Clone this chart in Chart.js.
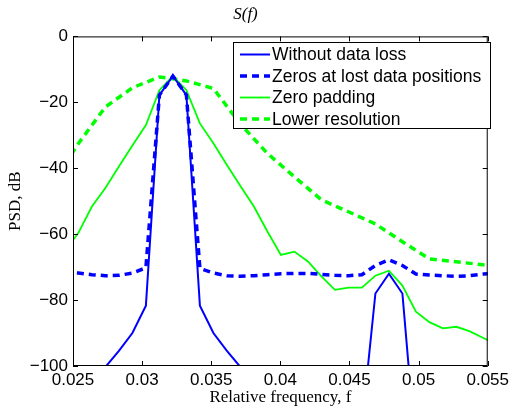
<!DOCTYPE html>
<html>
<head>
<meta charset="utf-8">
<script src="https://cdn.jsdelivr.net/npm/chart.js@4.4.0/dist/chart.umd.min.js"></script>
<style>
  html, body { margin: 0; padding: 0; background: #fff; }
</style>
</head>
<body>
<canvas id="myChart" width="513" height="406"></canvas>
<script>
// frequency grids (relative frequency)
const fineFreq = [
    0.024414, 0.025391, 0.026367, 0.027344, 0.028320, 0.029297, 0.030273, 0.031250,
    0.032227, 0.033203, 0.034180, 0.035156, 0.036133, 0.037109, 0.038086, 0.039063,
    0.040039, 0.041016, 0.041992, 0.042969, 0.043945, 0.044922, 0.045898, 0.046875,
    0.047852, 0.048828, 0.049805, 0.050781, 0.051758, 0.052734, 0.053711, 0.054688,
    0.055664
];
const coarseFreq = [
    0.023438, 0.025391, 0.027344, 0.029297, 0.031250, 0.033203, 0.035156, 0.037109,
    0.039063, 0.041016, 0.042969, 0.044922, 0.046875, 0.048828, 0.050781, 0.052734,
    0.054688, 0.056641
];

// PSD values, dB
const withoutLoss = [
    -125, -118, -108, -100.3, -95.4, -90, -81.7, -17.8,
    -12.0, -17.8, -81.7, -90, -95.4, -100.3, -108, -115,
    -120, -125, -128, -130, -128, -125, -118, -78,
    -72, -78, -126, -130, -132, -133, -134, -135,
    -135
];
const zerosLost = [
    -71.5, -71.8, -72.3, -72.6, -72.5, -71.8, -70.2, -17.8,
    -12.0, -17.8, -70.4, -71.8, -72.6, -72.8, -72.6, -72.3,
    -72.0, -71.9, -71.9, -72.2, -72.5, -72.6, -72.3, -69.5,
    -67.8, -69.5, -72.1, -72.4, -72.6, -72.8, -72.6, -72.1,
    -71.8
];
const zeroPadding = [
    -65, -59.6, -51.6, -46, -39.5, -33.1, -26.9, -16.3,
    -12.0, -16.3, -26.4, -32.4, -39, -45.4, -51.6, -59.2,
    -66.3, -65.3, -68.3, -72.8, -76.9, -76.2, -76.2, -72.6,
    -71.1, -75.6, -83.5, -86.7, -88.6, -88.1, -89.5, -91.5,
    -93.5
];
const lowerRes = [
    -45, -32.5, -21.4, -15.6, -12.3, -13.5, -15.8, -26.6,
    -35.5, -42.6, -49.6, -53.2, -56.9, -62.3, -67.5, -68.4,
    -69.3, -69.8
];

const xTicks = [0.025, 0.03, 0.035, 0.04, 0.045, 0.05, 0.055];
const yTicks = [-100, -80, -60, -40, -20, 0];

function toPoints(xs, ys) {
    return xs.map((x, i) => ({ x: x, y: ys[i] }));
}

const sansFont = 'Liberation Sans, Arial, sans-serif';
const serifFont = 'Liberation Serif, Times New Roman, serif';

// axes box with inward ticks, MATLAB style
const boxPlugin = {
    id: 'boxPlugin',
    afterDatasetsDraw(chart) {
        const c = chart.ctx;
        const a = chart.chartArea;
        const xs = chart.scales.x;
        const ys = chart.scales.y;
        c.save();
        c.strokeStyle = '#000';
        c.lineWidth = 1;
        c.strokeRect(a.left + 0.5, a.top + 0.5, a.right - a.left - 1, a.bottom - a.top - 1);
        c.beginPath();
        xTicks.forEach(v => {
            const px = Math.round(xs.getPixelForValue(v)) + 0.5;
            c.moveTo(px, a.bottom); c.lineTo(px, a.bottom - 5);
            c.moveTo(px, a.top); c.lineTo(px, a.top + 5);
        });
        yTicks.forEach(v => {
            const py = Math.round(ys.getPixelForValue(v)) + 0.5;
            c.moveTo(a.left, py); c.lineTo(a.left + 5, py);
            c.moveTo(a.right, py); c.lineTo(a.right - 5, py);
        });
        c.stroke();
        c.restore();
    },
    afterDraw(chart) {
        // legend box in the upper right corner
        const c = chart.ctx;
        const bx = 233, by = 42, bw = 257, bh = 86;
        c.save();
        c.fillStyle = '#fff';
        c.fillRect(bx, by, bw, bh);
        c.strokeStyle = '#000';
        c.lineWidth = 1;
        c.strokeRect(bx + 0.5, by + 0.5, bw, bh);
        c.font = '17.5px ' + sansFont;
        c.textBaseline = 'middle';
        c.textAlign = 'left';
        chart.data.datasets.forEach((ds, i) => {
            const y = by + 12.5 + i * 21.5;
            c.beginPath();
            c.strokeStyle = ds.borderColor;
            c.lineWidth = ds.borderWidth;
            c.setLineDash(ds.borderDash || []);
            c.moveTo(240, y);
            c.lineTo(270, y);
            c.stroke();
            c.setLineDash([]);
            c.fillStyle = '#000';
            c.fillText(ds.label, 272, y + 1);
        });
        c.restore();
    }
};

const ctx = document.getElementById('myChart').getContext('2d');
const chart = new Chart(ctx, {
    type: 'line',
    data: {
        datasets: [
            {
                label: 'Without data loss',
                data: toPoints(fineFreq, withoutLoss),
                borderColor: '#0000ff',
                borderWidth: 2,
                clip: 0
            },
            {
                label: 'Zeros at lost data positions',
                data: toPoints(fineFreq, zerosLost),
                borderColor: '#0000ff',
                borderWidth: 3.5,
                borderDash: [7, 5],
                clip: 0
            },
            {
                label: 'Zero padding',
                data: toPoints(fineFreq, zeroPadding),
                borderColor: '#00ff00',
                borderWidth: 1.8,
                clip: 0
            },
            {
                label: 'Lower resolution',
                data: toPoints(coarseFreq, lowerRes),
                borderColor: '#00ff00',
                borderWidth: 3.5,
                borderDash: [7, 5],
                clip: 0
            }
        ]
    },
    options: {
        responsive: false,
        animation: false,
        devicePixelRatio: 1,
        elements: {
            point: { radius: 0 },
            line: { tension: 0, fill: false }
        },
        layout: { padding: { left: 0, right: 22, top: 0, bottom: 0 } },
        plugins: {
            legend: { display: false },
            tooltip: { enabled: false },
            title: {
                display: true,
                text: 'S(f)',
                color: '#000',
                font: { family: serifFont, size: 17, style: 'italic', weight: 'normal' },
                padding: { top: 4, bottom: 12 }
            }
        },
        scales: {
            x: {
                type: 'linear',
                min: 0.025,
                max: 0.055,
                afterFit: scale => { scale.height = 40; },
                afterBuildTicks: scale => { scale.ticks = xTicks.map(v => ({ value: v })); },
                grid: { display: false, drawTicks: false },
                border: { display: false },
                ticks: {
                    color: '#000',
                    padding: 4,
                    maxRotation: 0,
                    font: { family: sansFont, size: 17 },
                    callback: v => String(+v.toFixed(3))
                },
                title: {
                    display: true,
                    text: 'Relative frequency, f',
                    color: '#000',
                    font: { family: serifFont, size: 17, lineHeight: 1 },
                    padding: { top: 0, bottom: 0 }
                }
            },
            y: {
                min: -100,
                max: 0,
                afterFit: scale => { scale.width = 73; },
                afterBuildTicks: scale => { scale.ticks = yTicks.map(v => ({ value: v })); },
                grid: { display: false, drawTicks: false },
                border: { display: false },
                ticks: {
                    color: '#000',
                    padding: 5,
                    font: { family: sansFont, size: 17 },
                    callback: v => (v < 0 ? '\u2212' + Math.abs(v) : String(v))
                },
                title: {
                    display: true,
                    text: 'PSD, dB',
                    color: '#000',
                    font: { family: serifFont, size: 17, lineHeight: 1 },
                    padding: { top: 7, bottom: 0 }
                }
            }
        }
    },
    plugins: [boxPlugin]
});
</script>
</body>
</html>
